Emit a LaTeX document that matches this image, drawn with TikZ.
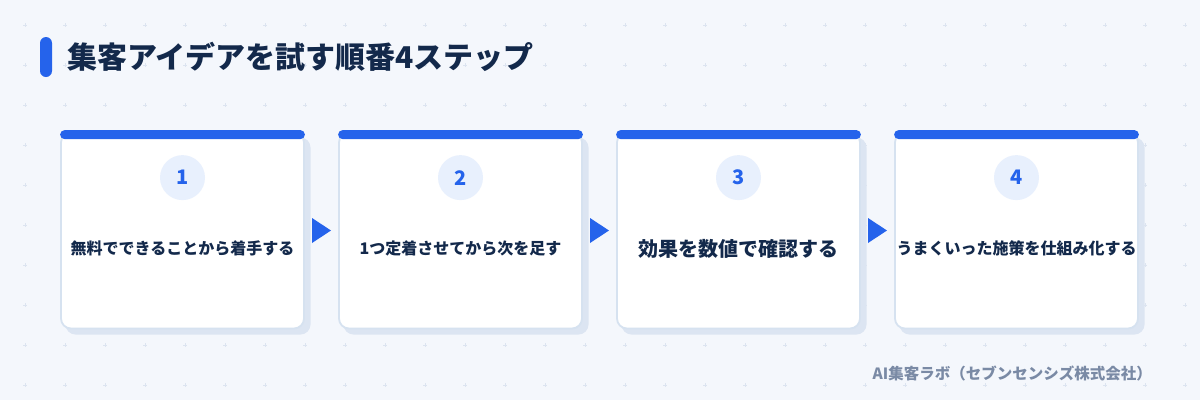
\documentclass[tikz,border=0pt]{standalone}
\usepackage{fontspec}
\setmainfont{Noto Sans CJK JP}
\usepackage{tikz}
\usetikzlibrary{calc}
\definecolor{bgc}{HTML}{F4F7FC}
\definecolor{gridc}{HTML}{DCE4F0}
\definecolor{navy}{HTML}{13294B}
\definecolor{stepblue}{HTML}{2563EB}
\definecolor{discc}{HTML}{E8F0FD}
\definecolor{cardline}{HTML}{D6E2F0}
\definecolor{shadowc}{HTML}{DCE5F2}
\definecolor{creditc}{HTML}{7A8AA5}
\tikzset{card/.style={
    draw=cardline,
    fill=white,
    line width=1.8pt,
    rounded corners=10pt,
    minimum width=243pt,
    minimum height=196pt}}
\tikzset{topbar/.style={
    fill=stepblue,
    rounded corners=4.5pt}}
\tikzset{numdisc/.style={
    circle,
    fill=discc,
    minimum size=45pt,
    inner sep=0pt,
    text=stepblue,
    font=\fontsize{20}{24}\selectfont\bfseries}}
\tikzset{steptext/.style={
    text=navy,
    inner sep=0pt}}

\begin{document}
\begin{tikzpicture}[x=1pt, y=-1pt]
  \useasboundingbox[fill=bgc] (0,0) rectangle (1200,400);

% background crosses
\foreach \gx in {0,...,29}
  \foreach \gy in {0,...,9}
    \draw[gridc, line width=1pt] ({25+40*\gx-2},{25+40*\gy}) -- ++(4,0)
      ({25+40*\gx},{25+40*\gy-2}) -- ++(0,4);

% title
\fill[stepblue, rounded corners=6pt] (40,37) rectangle (52,77);
\node[anchor=west,
  inner sep=0pt,
  text=navy,
  font=\fontsize{30}{36}\selectfont\bfseries] (title) at (67,57) {集客アイデアを試す順番4ステップ};

% cards
\foreach \i/\fs/\t in {1/16/{無料でできることから着手する},
    2/16/{1つ定着させてから次を足す},
    3/20/{効果を数値で確認する},
    4/16/{うまくいった施策を仕組み化する}}{
  \coordinate (c\i) at ({182.5+278*(\i-1)},230.5);
  \fill[shadowc, rounded corners=10pt] ($(c\i)+(-117,-93)$) rectangle ($(c\i)+(128,104)$);
  \node[card] (card\i) at (c\i) {};
  \fill[topbar] ($(card\i.north west)+(0,-1.5)$) rectangle ($(card\i.north east)+(0,7.5)$);
  \node[numdisc] (num\i) at ($(card\i.north)+(0,46)$) {\i};
  \node[steptext, font=\fontsize{\fs}{\fs}\selectfont\bfseries] (txt\i) at ($(c\i)+(0,18)$) {\t};
}

% arrows between cards
\foreach \i/\j in {1/2, 2/3, 3/4}{
  \coordinate (a\i) at ($(card\i.east)!0.5!(card\j.west)$);
  \fill[stepblue] ($(a\i)+(-9.5,-12.5)$) -- ($(a\i)+(9.5,0)$) -- ($(a\i)+(-9.5,12.5)$) -- cycle;
}

% credit
\node[anchor=east,
  inner sep=0pt,
  text=creditc,
  font=\fontsize{15.5}{18}\selectfont\bfseries] (credit) at (1152,373) {AI集客ラボ（セブンセンシズ株式会社）};
\end{tikzpicture}
\end{document}
